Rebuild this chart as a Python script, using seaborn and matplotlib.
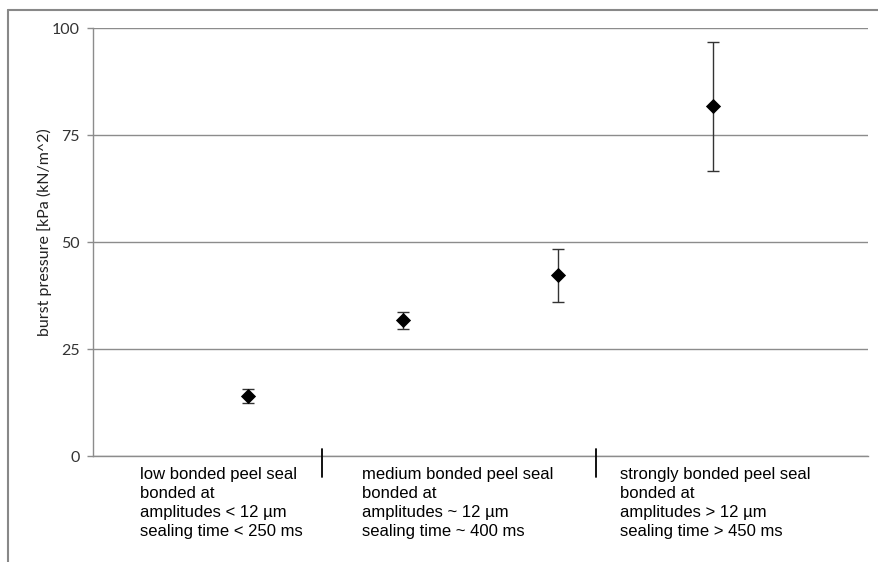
import matplotlib.pyplot as plt
from matplotlib.lines import Line2D
import seaborn as sns
import pandas as pd

# data
x_pos = [1, 2, 3, 4]
burst = [14.1, 31.8, 42.3, 81.7]
err_low = [1.7, 2.0, 6.3, 15.1]
err_high = [1.7, 2.0, 6.1, 15.1]

group_labels = [
    "low bonded peel seal\nbonded at\namplitudes < 12 µm\nsealing time < 250 ms",
    "medium bonded peel seal\nbonded at\namplitudes ~ 12 µm\nsealing time ~ 400 ms",
    "strongly bonded peel seal\nbonded at\namplitudes > 12 µm\nsealing time > 450 ms",
]
label_x = [0.30, 1.733, 3.40]
separators = [1.476, 3.245]
y_ticks = [0, 25, 50, 75, 100]

df = pd.DataFrame({'x': x_pos, 'burst': burst})

sns.set_style("white")
plt.rcParams['font.family'] = ['Liberation Sans', 'DejaVu Sans']

W, H = 879, 562
fig = plt.figure(figsize=(W / 100, H / 100), dpi=100)
left, right, top, bottom = 93.5, 868, 28, 456.3
ax = fig.add_axes([left / W, 1 - bottom / H, (right - left) / W, (bottom - top) / H])

# error bars first, then diamonds on top
ax.errorbar(df['x'], df['burst'], yerr=[err_low, err_high], fmt='none',
            ecolor='#333333', elinewidth=1, capsize=4, capthick=1, zorder=3)
sns.scatterplot(data=df, x='x', y='burst', marker='D', s=60, color='black',
                edgecolor='black', linewidth=0, ax=ax, zorder=4)

ax.set_xlim(0, 5)
ax.set_ylim(0, 100)
ax.set_yticks(y_ticks)
ax.set_yticklabels([str(t) for t in y_ticks], fontsize=11.5, color='#333333', family=['Lato', 'DejaVu Sans'])
ax.set_xticks([])
ax.grid(axis='y', color='#8c8c8c', lw=1)
ax.set_axisbelow(True)
ax.tick_params(axis='y', length=4, width=1, color='#8c8c8c', pad=6, left=True)
for s in ['top', 'right']:
    ax.spines[s].set_visible(False)
for s in ['left', 'bottom']:
    ax.spines[s].set_color('#8c8c8c')
    ax.spines[s].set_linewidth(1)
ax.set_xlabel('')
ax.set_ylabel('burst pressure [kPa (kN/m^2)', fontsize=11.5, color='#222222',
              family=['Lato', 'DejaVu Sans'])
ax.yaxis.set_label_coords(-0.054, 0.524)

# category separators and group texts under the axis
for sx in separators:
    ax.plot([sx, sx], [1.7, -4.8], color='black', lw=1.3, clip_on=False, zorder=5)
for lx, txt in zip(label_x, group_labels):
    ax.text(lx, -2.6, txt, ha='left', va='top', fontsize=12, color='black',
            linespacing=1.31)

# outer chart frame (runs off the right and bottom edges)
fig.add_artist(Line2D([8 / W, 8 / W], [1 - 10 / H, 0], transform=fig.transFigure,
                      color='#888888', lw=1.5))
fig.add_artist(Line2D([8 / W, 1], [1 - 10 / H, 1 - 10 / H], transform=fig.transFigure,
                      color='#888888', lw=1.5))

fig.savefig('out.png', dpi=100)
plt.close()
